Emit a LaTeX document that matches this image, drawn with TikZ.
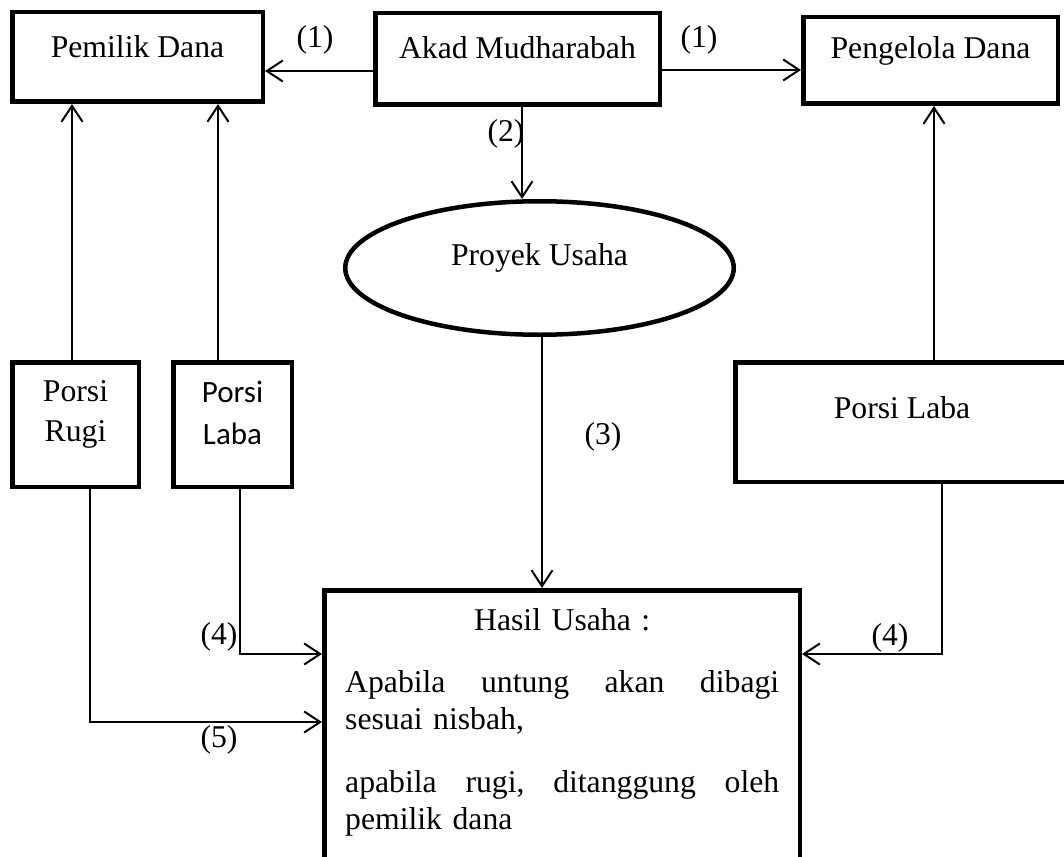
\documentclass[tikz,border=0pt]{standalone}
\usepackage{fontspec}
\setmainfont{Liberation Serif}
\newfontfamily\calibri{Carlito}
\usetikzlibrary{arrows.meta,shapes.geometric}

\tikzset{
	kotak/.style={draw, line width=4.5pt, inner sep=0pt, text height=22pt},
	kotakdua/.style={draw, line width=4.5pt, inner sep=0pt, align=center},
	panah/.style={line width=2pt, -{Straight Barb[length=16pt,width=21pt]}},
	nomor/.style={inner sep=0pt}
}

\begin{document}
\begin{tikzpicture}[x=1pt,y=-1pt,font=\fontsize{31.7}{37}\selectfont]
	\useasboundingbox (0,0) rectangle (1064,856);
	\clip (0,0) rectangle (1064,856);
		% baris atas
		\node[kotak, minimum width=250.5pt, minimum height=89.5pt, text depth=20pt] (pemilik) at (137.5,57) {Pemilik Dana};
		\node[kotak, minimum width=284.5pt, minimum height=91.5pt, text depth=23pt] (akad) at (517.5,59) {Akad Mudharabah};
		\node[kotak, minimum width=254.5pt, minimum height=86.5pt, text depth=26pt] (pengelola) at (930.5,60.5) {Pengelola Dana};
		\node[kotak, ellipse, minimum width=388.5pt, minimum height=133.5pt, text depth=28pt] (proyek) at (539.5,268) {Proyek Usaha};
		% porsi
		\node[kotakdua, minimum width=126.5pt, minimum height=124.5pt, font=\fontsize{31.7}{40}\selectfont] (rugi) at (75.5,424.5) {Porsi\\Rugi\rule[-27pt]{0pt}{0pt}};
		\node[kotakdua, minimum width=118.5pt, minimum height=124.5pt, font=\calibri\fontsize{31}{42}\selectfont] (labakiri) at (232.5,424.5) {Porsi\\Laba\rule[-24pt]{0pt}{0pt}};
		\node[kotak, minimum width=333.5pt, minimum height=119.5pt, text depth=30pt] (labakanan) at (902,422) {Porsi Laba};
		% hasil usaha
		\node[draw, line width=4.5pt, inner sep=0pt, minimum width=475.5pt, minimum height=307.5pt] (hasil) at (562,744) {};
		\node[anchor=north west, inner sep=0pt, text width=434pt, align=left] (isi) at (345,608) {\makebox[\linewidth]{Hasil Usaha :}\\[25pt]
			Apabila\hfill untung\hfill akan\hfill dibagi\\
			sesuai nisbah,\\[26pt]
			apabila\hfill rugi,\hfill ditanggung\hfill oleh\\
			pemilik dana};

		% (1)
		\coordinate (a1) at ([yshift=-12pt]akad.west);
		\coordinate (a2) at ([yshift=-11pt]akad.east);
		\draw[panah] (a1) -- (a1 -| pemilik.east);
		\draw[panah] (a2) -- (a2 -| pengelola.west);
		\node[nomor] (n1) at (315,40) {(1)};
		\node[nomor] (n2) at (699,40) {(1)};
		% (2)
		\coordinate (a3) at ([xshift=4.5pt]akad.south);
		\draw[panah] (a3) -- (a3 |- proyek.north);
		\node[nomor] (n3) at (506,134) {(2)};
		% (3)
		\coordinate (a4) at ([xshift=2.5pt]proyek.south);
		\draw[panah] (a4) -- (a4 |- hasil.north);
		\node[nomor] (n4) at (603,437) {(3)};
		% ke pemilik / pengelola
		\coordinate (b1) at ([xshift=-3.5pt]rugi.north);
		\coordinate (b2) at ([xshift=-14.5pt]labakiri.north);
		\coordinate (b3) at ([xshift=32pt]labakanan.north);
		\draw[panah] (b1) -- (b1 |- pemilik.south);
		\draw[panah] (b2) -- (b2 |- pemilik.south);
		\draw[panah] (b3) -- (b3 |- pengelola.south);
		% (4) dan (5)
		\coordinate (c1) at ([xshift=14.5pt]rugi.south);
		\coordinate (c2) at ([xshift=7.5pt]labakiri.south);
		\coordinate (c3) at ([xshift=40pt]labakanan.south);
		\coordinate (d1) at ([yshift=22pt]hasil.west);
		\coordinate (d2) at ([yshift=90pt]hasil.west);
		\coordinate (d3) at ([yshift=90pt]hasil.east);
		\draw[panah] (c1) |- (d1);
		\draw[panah] (c2) |- (d2);
		\draw[panah] (c3) |- (d3);
		\node[nomor] (n5) at (219,637) {(4)};
		\node[nomor] (n6) at (890,638) {(4)};
		\node[nomor] (n7) at (219,740) {(5)};
	\end{tikzpicture}
\end{document}
